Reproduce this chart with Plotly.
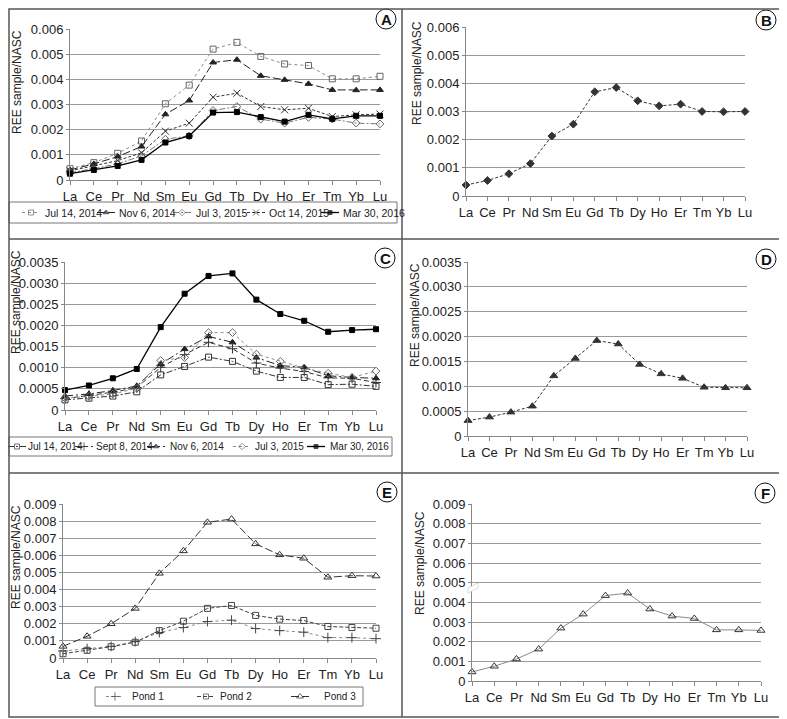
import plotly.graph_objects as go
from plotly.subplots import make_subplots

# reference picture size; the page puts the plot 8px in from the top-left corner
W, H = 787, 719
OX, OY = 8, 8
FW, FH = W - OX, H - OY

elements = ["La", "Ce", "Pr", "Nd", "Sm", "Eu", "Gd", "Tb", "Dy", "Ho", "Er", "Tm", "Yb", "Lu"]

# panel A
a_jul14_2014 = [0.00045, 0.00069, 0.00106, 0.00155, 0.00303, 0.00377, 0.0052, 0.00547, 0.00491, 0.00461, 0.00455, 0.00402, 0.00402, 0.00412]
a_nov6_2014 = [0.0004, 0.00064, 0.00093, 0.00133, 0.00261, 0.00316, 0.00467, 0.00478, 0.00414, 0.00398, 0.00382, 0.00358, 0.00357, 0.00358]
a_jul3_2015 = [0.00029, 0.00045, 0.00064, 0.00096, 0.00162, 0.00175, 0.00276, 0.00292, 0.00242, 0.00226, 0.00249, 0.00242, 0.00226, 0.00223]
a_oct14_2015 = [0.00036, 0.00056, 0.00077, 0.00108, 0.00194, 0.00226, 0.00329, 0.00345, 0.00292, 0.00279, 0.00285, 0.00252, 0.00259, 0.00262]
a_mar30_2016 = [0.00025, 0.0004, 0.00056, 0.0008, 0.00149, 0.00175, 0.00268, 0.0027, 0.0025, 0.00232, 0.00259, 0.00243, 0.00255, 0.00255]

# panel B
b_mean = [0.00039, 0.00055, 0.00079, 0.00115, 0.00213, 0.00255, 0.0037, 0.00385, 0.00338, 0.0032, 0.00326, 0.003, 0.00299, 0.003]

# panel C
c_jul14_2014 = [0.00024, 0.00028, 0.00033, 0.00043, 0.00083, 0.00103, 0.00125, 0.00115, 0.00092, 0.00077, 0.00077, 0.0006, 0.00061, 0.00056]
c_sep8_2014 = [0.00027, 0.00035, 0.00042, 0.00053, 0.00101, 0.00131, 0.0016, 0.00145, 0.00111, 0.00099, 0.00091, 0.00076, 0.00075, 0.00065]
c_nov6_2014 = [0.00033, 0.00038, 0.00046, 0.00057, 0.00109, 0.00144, 0.00174, 0.0016, 0.00124, 0.00105, 0.00101, 0.00081, 0.00077, 0.00075]
c_jul3_2015 = [0.00028, 0.00032, 0.00038, 0.00051, 0.00117, 0.00124, 0.00183, 0.00183, 0.00132, 0.00115, 0.00099, 0.00087, 0.00077, 0.00092]
c_mar30_2016 = [0.00047, 0.00058, 0.00075, 0.00097, 0.00196, 0.00275, 0.00317, 0.00323, 0.00261, 0.00227, 0.00211, 0.00185, 0.00189, 0.00191]

# panel D
d_mean = [0.00031, 0.00038, 0.00048, 0.0006, 0.00121, 0.00156, 0.00192, 0.00185, 0.00144, 0.00125, 0.00116, 0.00098, 0.00097, 0.00097]

# panel E
e_pond1 = [0.00041, 0.00055, 0.00068, 0.00096, 0.00149, 0.00178, 0.00213, 0.00221, 0.00172, 0.0016, 0.00151, 0.00119, 0.00119, 0.00113]
e_pond2 = [0.00025, 0.00045, 0.00066, 0.00092, 0.0016, 0.00215, 0.0029, 0.00307, 0.00249, 0.00227, 0.00219, 0.00184, 0.00178, 0.00174]
e_pond3 = [0.00068, 0.00127, 0.002, 0.0029, 0.00495, 0.00626, 0.00793, 0.00812, 0.00667, 0.00603, 0.00583, 0.00472, 0.00481, 0.00479]

# panel F
f_mean = [0.00046, 0.00075, 0.00112, 0.00162, 0.00269, 0.0034, 0.00434, 0.00447, 0.00366, 0.0033, 0.00318, 0.0026, 0.0026, 0.00257]

ticks_1e3 = [0, 0.001, 0.002, 0.003, 0.004, 0.005, 0.006]
ticks_1e3_text = ["0", "0.001", "0.002", "0.003", "0.004", "0.005", "0.006"]
ticks_5e4 = [0, 0.0005, 0.001, 0.0015, 0.002, 0.0025, 0.003, 0.0035]
ticks_5e4_text = ["0", "0.0005", "0.0010", "0.0015", "0.0020", "0.0025", "0.0030", "0.0035"]
ticks_9 = [0, 0.001, 0.002, 0.003, 0.004, 0.005, 0.006, 0.007, 0.008, 0.009]
ticks_9_text = ["0", "0.001", "0.002", "0.003", "0.004", "0.005", "0.006", "0.007", "0.008", "0.009"]

FONT = "Arial, Liberation Sans, sans-serif"

# line / marker styles
s_gray_dot_sq = dict(color="#8a8a8a", dash="dot", symbol="square-open", size=6, mcolor="#666")
s_tri_long = dict(color="#222", dash="8px,3px", symbol="triangle-up", size=6)
s_dia_dashdot = dict(color="#777", dash="6px,2px,2px,2px", symbol="diamond-open", size=6, mcolor="#666")
s_x_short = dict(color="#333", dash="3px,2px", symbol="x-thin", size=7)
s_sq_solid = dict(color="#000", dash="solid", symbol="square", size=5, width=1.3)

series = {
    (1, 1): [("Jul 14, 2014", a_jul14_2014, s_gray_dot_sq),
             ("Nov 6, 2014", a_nov6_2014, s_tri_long),
             ("Jul 3, 2015", a_jul3_2015, s_dia_dashdot),
             ("Oct 14, 2015", a_oct14_2015, s_x_short),
             ("Mar 30, 2016", a_mar30_2016, s_sq_solid)],
    (1, 2): [("B", b_mean, dict(color="#333", dash="3px,2px", symbol="diamond", size=6))],
    (2, 1): [("Jul 14, 2014", c_jul14_2014, dict(color="#333", dash="6px,2px,2px,2px", symbol="square-open", size=6)),
             ("Sept 8, 2014", c_sep8_2014, dict(color="#333", dash="5px,3px", symbol="cross-thin", size=7)),
             ("Nov 6, 2014", c_nov6_2014, dict(color="#222", dash="8px,3px,2px,3px", symbol="triangle-up", size=6)),
             ("Jul 3, 2015", c_jul3_2015, dict(color="#8a8a8a", dash="dot", symbol="diamond-open", size=6, mcolor="#666")),
             ("Mar 30, 2016", c_mar30_2016, s_sq_solid)],
    (2, 2): [("D", d_mean, dict(color="#333", dash="3px,2px", symbol="triangle-up", size=7))],
    (3, 1): [("Pond 1", e_pond1, dict(color="#8a8a8a", dash="dot", symbol="cross-thin", size=7, mcolor="#444")),
             ("Pond 2", e_pond2, dict(color="#444", dash="4px,2px", symbol="square-open", size=6)),
             ("Pond 3", e_pond3, dict(color="#333", dash="8px,3px", symbol="triangle-up-open", size=7))],
    (3, 2): [("F", f_mean, dict(color="#8a8a8a", dash="solid", symbol="triangle-up-open", size=7, mcolor="#333"))],
}

fig = make_subplots(rows=3, cols=2)


def line_of(st):
    return dict(color=st["color"], dash=st["dash"], width=st.get("width", 1))


def marker_of(st, size=None):
    mc = st.get("mcolor", st["color"])
    return dict(symbol=st["symbol"], size=size if size is not None else st["size"], color=mc,
                line=dict(color=mc, width=1))


for (r, c), lst in series.items():
    for name, y, st in lst:
        fig.add_trace(go.Scatter(x=elements, y=y, name=name, mode="lines+markers",
                                 line=line_of(st), marker=marker_of(st),
                                 cliponaxis=False, showlegend=False), row=r, col=c)

# plot areas in reference pixels: left, right, top, bottom
areas = {
    (1, 1): (70, 380, 29, 180),
    (1, 2): (466, 745, 27, 196),
    (2, 1): (65, 376, 262, 410),
    (2, 2): (468, 747, 262, 436),
    (3, 1): (63, 376, 504, 658),
    (3, 2): (472, 761, 504, 681),
}
yticks = {1: (ticks_1e3, ticks_1e3_text, 0.006), 2: (ticks_5e4, ticks_5e4_text, 0.0035), 3: (ticks_9, ticks_9_text, 0.009)}

for (r, c), (l, rt, t, b) in areas.items():
    tv, tt, top = yticks[r]
    fig.update_xaxes(domain=[(l - OX) / FW, (rt - OX) / FW], range=[0, 13], type="category",
                     showline=True, linecolor="#888", linewidth=1, ticks="outside",
                     ticklen=4, tickcolor="#888", showgrid=False, zeroline=False, automargin=False,
                     tickfont=dict(size=13, color="#222", family=FONT), row=r, col=c)
    fig.update_yaxes(domain=[1 - (b - OY) / FH, 1 - (t - OY) / FH], range=[0, top], tickvals=tv, ticktext=tt,
                     showline=True, linecolor="#888", linewidth=1, ticks="outside",
                     ticklen=3, tickcolor="#888", showgrid=True, gridcolor="#9a9a9a",
                     gridwidth=1, zeroline=False, automargin=False,
                     tickfont=dict(size=13, color="#222", family=FONT), row=r, col=c)

# overlay axis in reference pixel units (legends, titles, letters, frame)
fig.update_layout(
    xaxis7=dict(domain=[0, 1], range=[OX, W], visible=False, fixedrange=True, anchor="y7", automargin=False),
    yaxis7=dict(domain=[0, 1], range=[H, OY], visible=False, fixedrange=True, anchor="x7", automargin=False),
)

# legend boxes: (panel, left, right, top, bottom, marker x centres, text x starts, font size)
legends = [
    ((1, 1), 9, 397, 202, 223, [31, 106, 182, 256, 330], [43, 117, 194, 267, 341], 10.5),
    ((2, 1), 9, 392, 437, 456, [17, 84, 156, 242, 316], [26, 94, 168, 253, 328], 10),
    ((3, 1), 95, 363, 687, 706, [115, 206, 300], [130, 218, 322], 10),
]
for panel, l, rt, t, b, mx, tx, fs in legends:
    fig.add_shape(type="rect", xref="x7", yref="y7", x0=l, x1=rt, y0=t, y1=b,
                  line=dict(color="#777", width=1), fillcolor="white", layer="below")
    yc = (t + b) / 2
    for (name, _, st), m, txt in zip(series[panel], mx, tx):
        fig.add_trace(go.Scatter(x=[m - 9, m, m + 9], y=[yc, yc, yc], mode="lines+markers",
                                 line=line_of(st), marker=marker_of(st, [0, st["size"] - 1, 0]),
                                 showlegend=False, hoverinfo="skip", xaxis="x7", yaxis="y7"))
        fig.add_annotation(x=txt, y=yc, xref="x7", yref="y7", text=name, showarrow=False,
                           xanchor="left", yanchor="middle",
                           font=dict(size=fs, color="#222", family=FONT))

# y axis titles
title_pos = [(17, 82), (417, 73), (16, 302), (415, 315), (16, 557), (420, 563)]
for x, y in title_pos:
    fig.add_annotation(x=x, y=y, xref="x7", yref="y7", text="REE sample/NASC",
                       textangle=-90, showarrow=False, xanchor="center", yanchor="middle",
                       font=dict(size=12, color="#222", family=FONT))

# panel letters
letters = [("A", 386, 19), ("B", 766, 20), ("C", 385, 258), ("D", 766, 259), ("E", 387, 492), ("F", 765, 493)]
for s, x, y in letters:
    rr = 10
    fig.add_shape(type="circle", xref="x7", yref="y7", x0=x - rr, x1=x + rr, y0=y - rr, y1=y + rr,
                  line=dict(color="#111", width=1), fillcolor="white")
    fig.add_annotation(x=x, y=y, xref="x7", yref="y7", text="<b>%s</b>" % s,
                       showarrow=False, xanchor="center", yanchor="middle",
                       font=dict(size=15, color="#111", family=FONT))

# panel frame
frame = dict(color="#555", width=1.5)
fig.add_shape(type="rect", xref="x7", yref="y7", x0=9, x1=785, y0=9, y1=717, line=frame)
fig.add_shape(type="line", xref="x7", yref="y7", x0=402, x1=402, y0=9, y1=717, line=frame)
for yy in (239, 473):
    fig.add_shape(type="line", xref="x7", yref="y7", x0=9, x1=785, y0=yy, y1=yy, line=frame)

# axis break mark on panel F
fig.add_shape(type="path", xref="x7", yref="y7",
              path="M 468 593 L 478 588 L 478 583 L 468 588 Z",
              line=dict(color="#bbb", width=0.5), fillcolor="white")

fig.update_layout(
    width=FW, height=FH, margin=dict(l=0, r=0, t=0, b=0, pad=0, autoexpand=False),
    plot_bgcolor="rgba(0,0,0,0)", paper_bgcolor="white",
    font=dict(family=FONT), showlegend=False,
)

fig.write_html("out.html")
